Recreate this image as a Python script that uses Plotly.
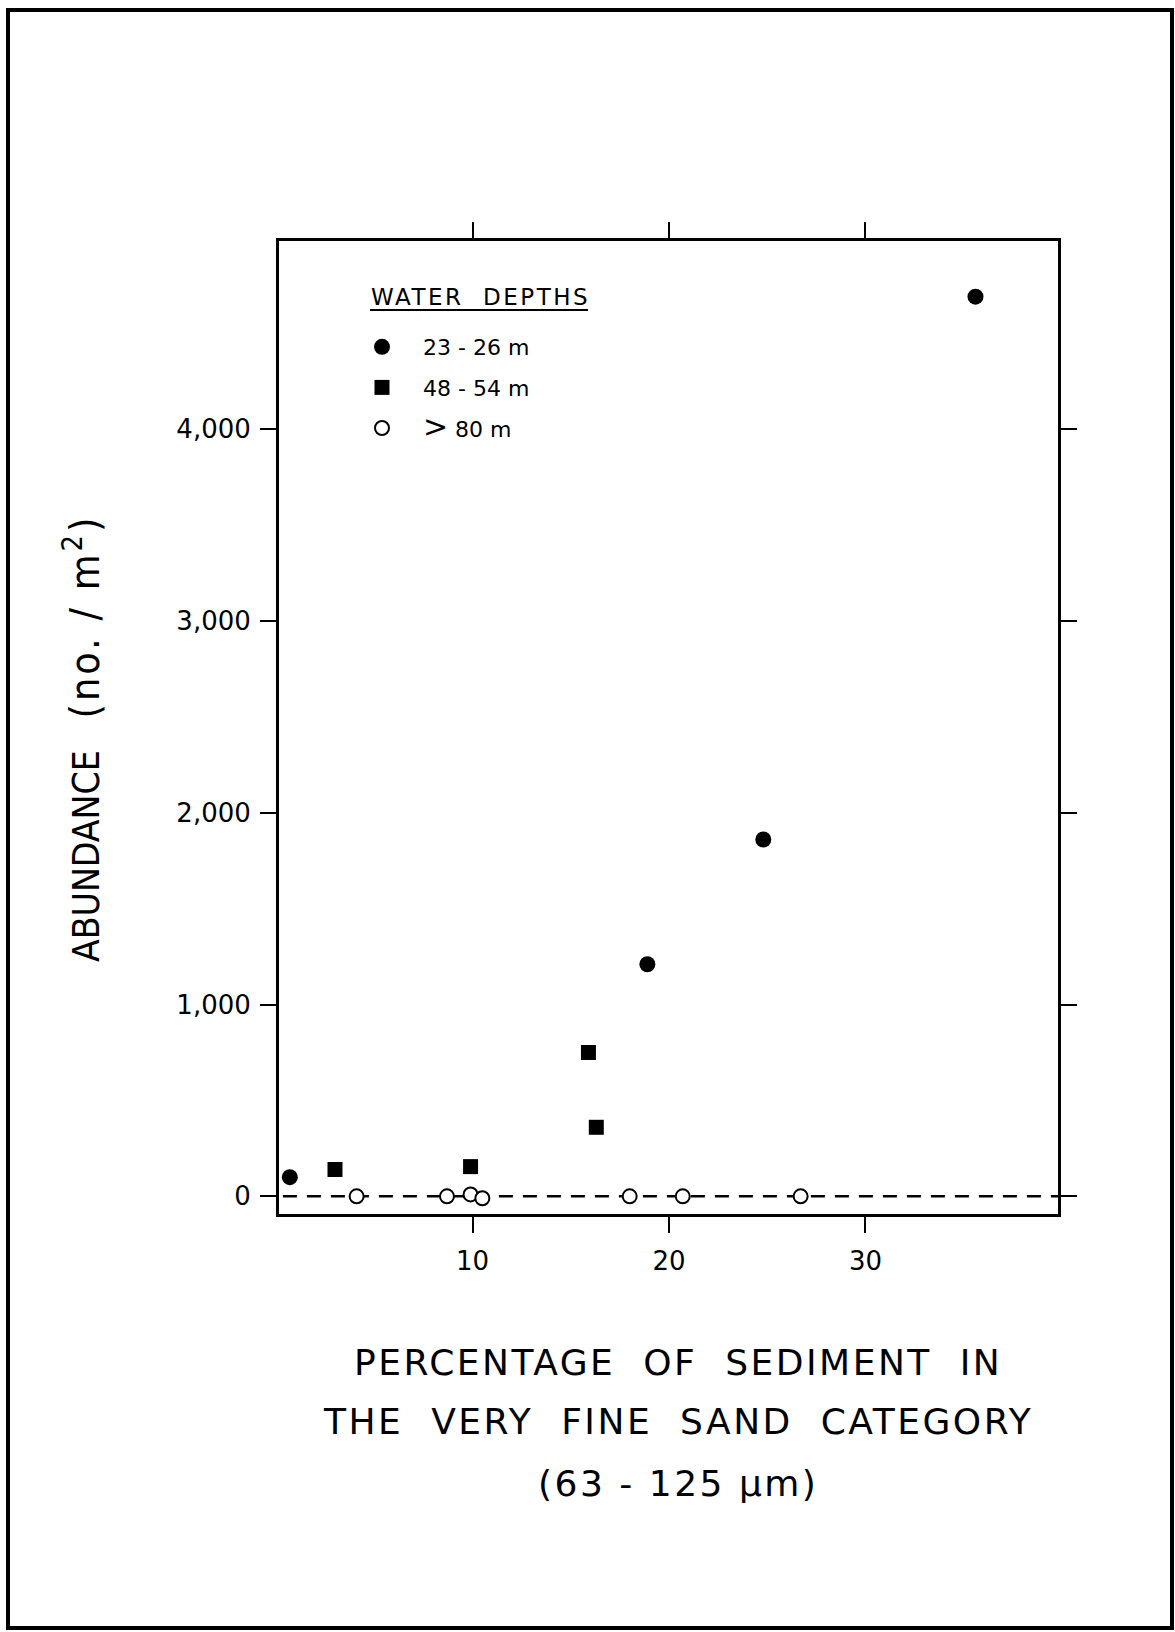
import plotly.graph_objects as go

# ---- data ----
depth_labels = ["23 - 26 m", "48 - 54 m", "<span style='font-size:30px'>></span> 80 m"]
legend_title = "WATER  DEPTHS"

x_shallow = [0.7, 18.9, 24.8, 35.6]
y_shallow = [100, 1210, 1860, 4690]

x_mid = [3.0, 9.9, 15.9, 16.3]
y_mid = [140, 155, 750, 360]

x_deep = [4.1, 8.7, 9.9, 10.5, 18.0, 20.7, 26.7]
y_deep = [0, 0, 10, -10, 0, 0, 0]

x_ticks = [10, 20, 30]
y_ticks = [0, 1000, 2000, 3000, 4000]

x_title_lines = ["PERCENTAGE  OF  SEDIMENT  IN",
                 "THE  VERY  FINE  SAND  CATEGORY",
                 "(63 - 125 µm)"]
y_title_main = "ABUNDANCE"
y_title_unit = "(no. / m<sup>2</sup>)"

W, H = 1175, 1632
L, R, T, B = 279, 1058, 241, 1214  # plot frame in pixels
pw, ph = R - L, B - T


def px(xpix):
    return (xpix - L) / pw


def py(ypix):
    return (B - ypix) / ph


TICKFONT = "DejaVu Sans, Lato, sans-serif"
TITLEFONT = "Liberation Sans Narrow, DejaVu Sans Condensed, Liberation Sans, sans-serif"
PAD = "\u00a0\u00a0\u00a0"

fig = go.Figure()
fig.add_trace(go.Scatter(
    x=x_shallow, y=y_shallow, mode="markers", name=PAD + depth_labels[0], legendgroup="a",
    marker=dict(symbol="circle", size=16, color="black", line=dict(width=0))))
fig.add_trace(go.Scatter(
    x=x_mid, y=y_mid, mode="markers", name=PAD + depth_labels[1], legendgroup="b",
    marker=dict(symbol="square", size=15, color="black", line=dict(width=0))))
fig.add_trace(go.Scatter(
    x=x_deep, y=y_deep, mode="markers", name=PAD + depth_labels[2], legendgroup="c",
    marker=dict(symbol="circle", size=14, color="white", line=dict(width=2, color="black"))))

axis_common = dict(
    showline=True, linewidth=3, linecolor="black", mirror="ticks",
    ticks="outside", ticklen=16, tickwidth=2, tickcolor="black",
    showgrid=False, zeroline=False,
    tickfont=dict(family=TICKFONT, size=26, color="black"),
)

fig.update_layout(
    width=W, height=H,
    margin=dict(l=L, r=W - R, t=T, b=H - B),
    paper_bgcolor="white", plot_bgcolor="white",
    showlegend=True,
    legend=dict(
        x=px(362), y=py(326), xanchor="left", yanchor="top",
        bgcolor="rgba(0,0,0,0)", traceorder="grouped", tracegroupgap=9,
        font=dict(family=TICKFONT, size=22, color="black"),
    ),
    xaxis=dict(range=[0.15, 39.8], tickvals=x_ticks, ticklabelstandoff=6, **axis_common),
    yaxis=dict(range=[-92, 4980], tickvals=y_ticks, tickformat=",d", ticklabelstandoff=4, **axis_common),
)

# dashed zero line
fig.add_shape(type="line", xref="paper", yref="y", x0=0.005, x1=1, y0=0, y1=0,
              line=dict(color="black", width=2.5, dash="14px,10px"), layer="below")

# legend heading with underline
fig.add_annotation(xref="paper", yref="paper", x=px(369), y=py(297), xanchor="left", yanchor="middle",
                   showarrow=False,
                   text="<span style='letter-spacing:2.5px'>" + legend_title + "</span>",
                   font=dict(family=TICKFONT, size=23, color="black"))
fig.add_shape(type="line", xref="paper", yref="paper", x0=px(370), x1=px(588), y0=py(310), y1=py(310),
              line=dict(color="black", width=2))

# outer page border
fig.add_shape(type="rect", xref="paper", yref="paper", x0=px(8), x1=px(1172), y0=py(1628), y1=py(10),
              line=dict(color="black", width=4))

# axis titles
fig.add_annotation(xref="paper", yref="paper", x=px(82), y=py(739), xanchor="center", yanchor="middle",
                   textangle=-90, showarrow=False,
                   text=y_title_main + "\u00a0\u00a0\u00a0<span style='font-size:41px;letter-spacing:3px'>"
                        + y_title_unit + "</span>",
                   font=dict(family=TITLEFONT, size=37, color="black"))

for txt, yy in zip(x_title_lines, [1362, 1421, 1483]):
    fig.add_annotation(xref="paper", yref="paper", x=px(678), y=py(yy), xanchor="center", yanchor="middle",
                       showarrow=False,
                       text="<span style='letter-spacing:2.5px'>" + txt + "</span>",
                       font=dict(family=TICKFONT, size=36, color="black"))

fig.write_html("out.html")
